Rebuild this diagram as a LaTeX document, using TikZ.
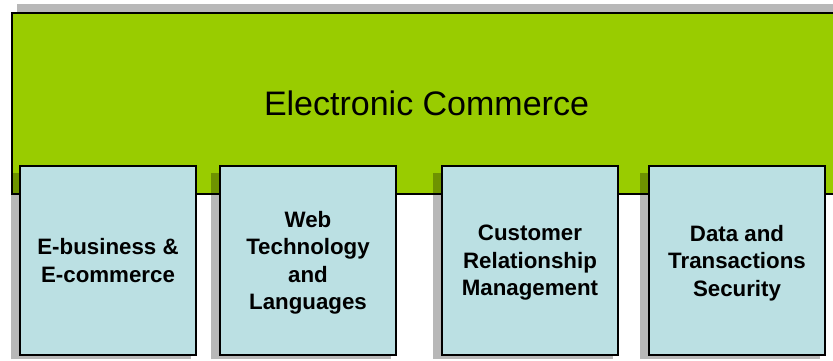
\documentclass[tikz,border=0pt]{standalone}
\usepackage{fontspec}
\setmainfont{Liberation Sans}
\usepackage{tikz}
\usetikzlibrary{positioning}
\definecolor{commercegreen}{RGB}{153, 204, 0}
\definecolor{topicblue}{RGB}{187, 224, 227}

\begin{document}
\begin{tikzpicture}[x=1pt, y=-1pt,
    panel/.style={rectangle, draw, line width=2pt, anchor=north west, inner sep=0pt},
    mainpanel/.style={panel, fill=commercegreen, minimum width=829pt, minimum height=181pt,
        font=\fontsize{34}{40}\selectfont},
    topic/.style={panel, fill=topicblue, minimum width=176pt, minimum height=189pt,
        align=center, text depth=0pt, font=\fontsize{22.3}{27.5}\selectfont\bfseries},
    shade/.style={fill=black, fill opacity=0.28}
]
\useasboundingbox (0,0) rectangle (833,360);

% Main panel
\fill[shade] (17,4) rectangle (850,185);
\node[mainpanel] (ecom) at (11,12) {Electronic Commerce};

% Topic shadows
\fill[shade] (11,173) rectangle (191,359);
\fill[shade] (211,173) rectangle (391,359);
\fill[shade] (433,173) rectangle (613,359);
\fill[shade] (640,173) rectangle (820,359);

% Topics
\node[topic] (ebiz) at (19,165) {E-business \&\\E-commerce};
\node[topic] (webtech) at (219,165) {Web\\Technology\\and\\Languages};
\node[topic] (crm) at (441,165) {Customer\\Relationship\\Management};
\node[topic] (security) at (648,165) {Data and\\Transactions\\Security};

\end{tikzpicture}
\end{document}
